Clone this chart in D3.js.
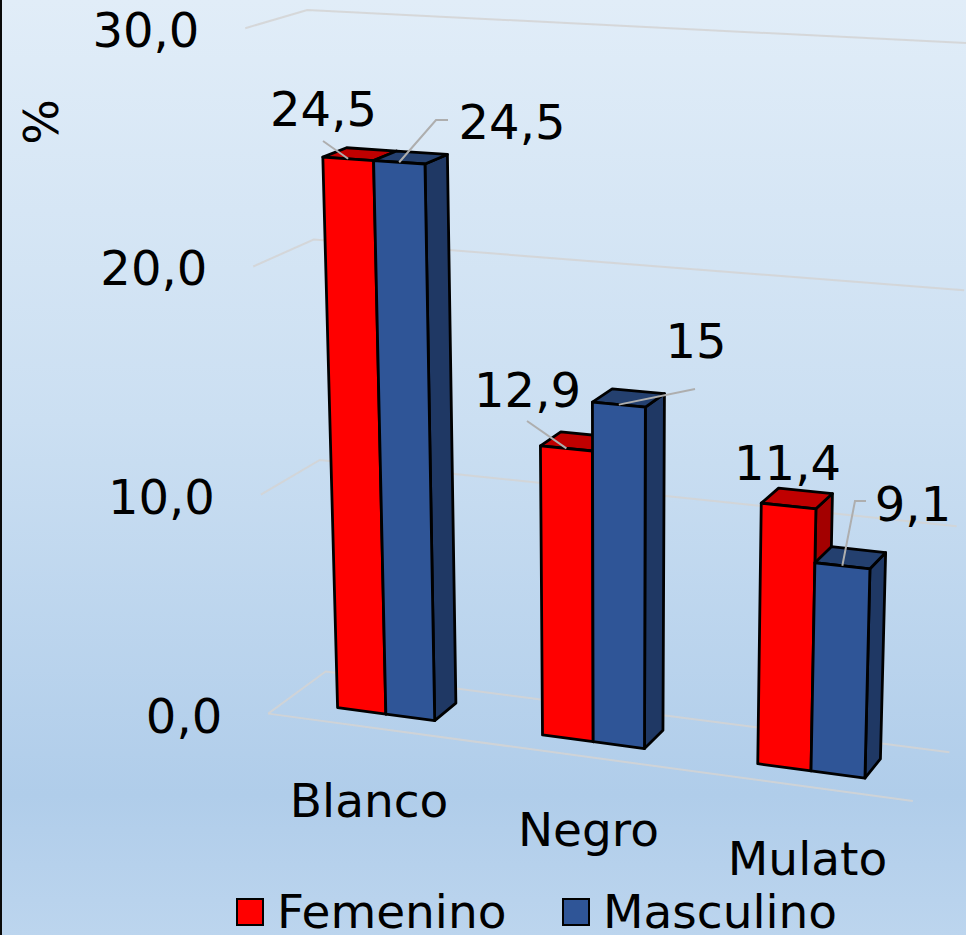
<!DOCTYPE html>
<html><head><meta charset="utf-8">
<script src="https://cdnjs.cloudflare.com/ajax/libs/d3/7.8.5/d3.min.js"></script>
<style>html,body{margin:0;padding:0;overflow:hidden}svg{display:block}text{font-family:"DejaVu Sans",sans-serif;fill:#000}</style>
</head><body><svg id="c" width="966" height="935"></svg>
<script>
// ---- data ----
const categories = ["Blanco", "Negro", "Mulato"];
const seriesNames = ["Femenino", "Masculino"];
const femenino = [24.5, 12.9, 11.4];
const masculino = [24.5, 15, 9.1];
const valueTicks = [0, 10, 20, 30];
const axisTitle = "%";

// ---- styles ----
const faceColors = {
  Femenino: {front: "#ff0000", top: "#c00000", side: "#a30000"},
  Masculino: {front: "#2f5597", top: "#24406f", side: "#1f3864"}
};
const fmtTick = v => v.toFixed(1).replace(".", ",");
const fmtLabel = v => String(v).replace(".", ",");
const fontSize = 48, nameFontSize = 47;

// ---- label layout ----
const labelLayout = [
  {c:0,s:0,x:323.5,y:126,leader:[[323,141]]},
  {c:0,s:1,x:512,y:139,leader:[[448,120],[436,120]]},
  {c:1,s:0,x:527.5,y:407,leader:[[527,421]]},
  {c:1,s:1,x:696,y:358,leader:[[695,389]]},
  {c:2,s:0,x:787.5,y:480,leader:null},
  {c:2,s:1,x:913,y:521,leader:[[866,501],[855,501]]}
];
const categoryLabelDx = [0, 10, 9];

// ---- camera: world (x in category units, value, depth) -> screen, fitted from chart-box reference points ----
const calib = [
  [0,0,0,268,714],[0,0,1,329,672],[3,0,1,950,752],[3,0,0,915,801],
  [0,10,1,320,460],[0,20,1,312,238],[0,30,1,307,10],
  [0,10,0,262,494],[0,20,0,254,266],[0,30,0,245,28],
  [3,20,1,964,290],[3,30,1,973,44],
  [.26,0,.3,336,708],[.5,0,.3,385,714],[.74,0,.3,434,721],
  [1.26,0,.3,543,736],[1.5,0,.3,593,741],[1.74,0,.3,644,748],
  [2.26,0,.3,757,764],[2.5,0,.3,811,770],[2.74,0,.3,865,777],
  [.26,24.5,.3,323,158],[.74,24.5,.3,426,164],[1.26,12.9,.3,541,446],
  [1.74,15,.3,645,407],[2.26,11.4,.3,761,504],[2.74,9.1,.3,869,569],
  [.74,24.5,.7,447,155],[2.74,9.1,.7,885,553],[.74,0,.7,455,703],[2.74,0,.7,880,759],
  [1.74,15,.7,664,393],[1.74,0,.7,663,731]
];
function solveCamera(pts){
  const n=11, A=d3.range(n).map(()=>new Array(n+1).fill(0));
  const add=(r,b)=>{for(let i=0;i<n;i++){for(let j=0;j<n;j++)A[i][j]+=r[i]*r[j];A[i][n]+=r[i]*b;}};
  pts.forEach(([X,Y,Z,x,y])=>{
    add([X,Y,Z,1,0,0,0,0,-x*X,-x*Y,-x*Z],x);
    add([0,0,0,0,X,Y,Z,1,-y*X,-y*Y,-y*Z],y);
  });
  for(let i=0;i<n;i++){
    let p=i;for(let k=i+1;k<n;k++)if(Math.abs(A[k][i])>Math.abs(A[p][i]))p=k;
    [A[i],A[p]]=[A[p],A[i]];
    for(let k=0;k<n;k++){if(k===i)continue;const f=A[k][i]/A[i][i];for(let j=i;j<=n;j++)A[k][j]-=f*A[i][j];}
  }
  return A.map((r,i)=>r[n]/r[i]);
}
const m=solveCamera(calib);
function project(X,Y,Z){
  const w=m[8]*X+m[9]*Y+m[10]*Z+1;
  return [(m[0]*X+m[1]*Y+m[2]*Z+m[3])/w,(m[4]*X+m[5]*Y+m[6]*Z+m[7])/w];
}

// ---- scales ----
const xCat=d3.scaleBand().domain(categories).range([0,3]).paddingInner(.52).paddingOuter(.26);
const xSer=d3.scaleBand().domain(seriesNames).range([0,xCat.bandwidth()]);
const yVal=d3.scaleLinear().domain([0,30]).range([0,30]);
const depthFront=.3, depthBack=.7;

const svg=d3.select("#c");
const defs=svg.append("defs");
const grad=defs.append("linearGradient").attr("id","bg").attr("x1",0).attr("y1",0).attr("x2",0).attr("y2",1);
[[0,"#e1edf8"],[.45,"#cbdff2"],[.85,"#b0cdea"],[1,"#bcd5ee"]].forEach(([o,c])=>grad.append("stop").attr("offset",o).attr("stop-color",c));
svg.append("rect").attr("width",966).attr("height",935).attr("fill","url(#bg)");
svg.append("rect").attr("width",2).attr("height",935).attr("fill","#0a0a0a");

const line=d3.line();
const gridG=svg.append("g").attr("fill","none").attr("stroke","#d4d4d4").attr("stroke-width",2).attr("stroke-opacity",.85);
valueTicks.forEach(v=>{
  gridG.append("path").attr("d",line([project(0,yVal(v),0),project(0,yVal(v),1),project(3,yVal(v),1)]));
});
gridG.append("path").attr("d",line([project(0,0,0),project(3,0,0)]));

// axis labels
svg.append("g").attr("font-size",fontSize).attr("text-anchor","end").selectAll("text").data(valueTicks).join("text")
  .attr("x",v=>project(0,yVal(v),0)[0]-46).attr("y",v=>project(0,yVal(v),0)[1]+19).text(fmtTick);
svg.append("text").attr("font-size",fontSize).attr("text-anchor","middle")
  .attr("transform","translate(58,122) rotate(-90)").text(axisTitle);

// bars
const series=[femenino,masculino];
const barsG=svg.append("g").attr("stroke","#000").attr("stroke-width",2.8).attr("stroke-linejoin","round");
const anchors={};
categories.forEach((cat,ci)=>{
  seriesNames.forEach((name,si)=>{
    const v=series[si][ci], col=faceColors[name];
    const x0=xCat(cat)+xSer(name), x1=x0+xSer.bandwidth(), h=yVal(v);
    const g=barsG.append("g");
    const poly=(pts,fill)=>g.append("path").attr("d",line(pts)+"Z").attr("fill",fill);
    poly([project(x1,0,depthFront),project(x1,0,depthBack),project(x1,h,depthBack),project(x1,h,depthFront)],col.side);
    poly([project(x0,h,depthFront),project(x1,h,depthFront),project(x1,h,depthBack),project(x0,h,depthBack)],col.top);
    poly([project(x0,0,depthFront),project(x1,0,depthFront),project(x1,h,depthFront),project(x0,h,depthFront)],col.front);
    anchors[ci+"-"+si]=project((x0+x1)/2,h,depthFront);
  });
});

// leaders and labels
const leaderG=svg.append("g").attr("fill","none").attr("stroke","#aeaeae").attr("stroke-width",2);
const labelG=svg.append("g").attr("font-size",fontSize).attr("text-anchor","middle");
labelLayout.forEach(l=>{
  if(l.leader) leaderG.append("path").attr("d",line([...l.leader,anchors[l.c+"-"+l.s]]));
  labelG.append("text").attr("x",l.x).attr("y",l.y).text(fmtLabel(series[l.s][l.c]));
});

// category labels
svg.append("g").attr("font-size",nameFontSize).attr("text-anchor","middle").selectAll("text").data(categories).join("text")
  .attr("x",(c,i)=>project(xCat(c)+xCat.bandwidth()/2,0,0)[0]+categoryLabelDx[i])
  .attr("y",c=>project(xCat(c)+xCat.bandwidth()/2,0,0)[1]+90).text(c=>c);

// legend
const legendX=[237,563], legendTextX=[277,603];
const legend=svg.append("g");
seriesNames.forEach((name,i)=>{
  legend.append("rect").attr("x",legendX[i]).attr("y",899).attr("width",26).attr("height",26)
    .attr("fill",faceColors[name].front).attr("stroke","#000").attr("stroke-width",2);
  legend.append("text").attr("x",legendTextX[i]).attr("y",928).attr("font-size",nameFontSize).text(name);
});
</script></body></html>
